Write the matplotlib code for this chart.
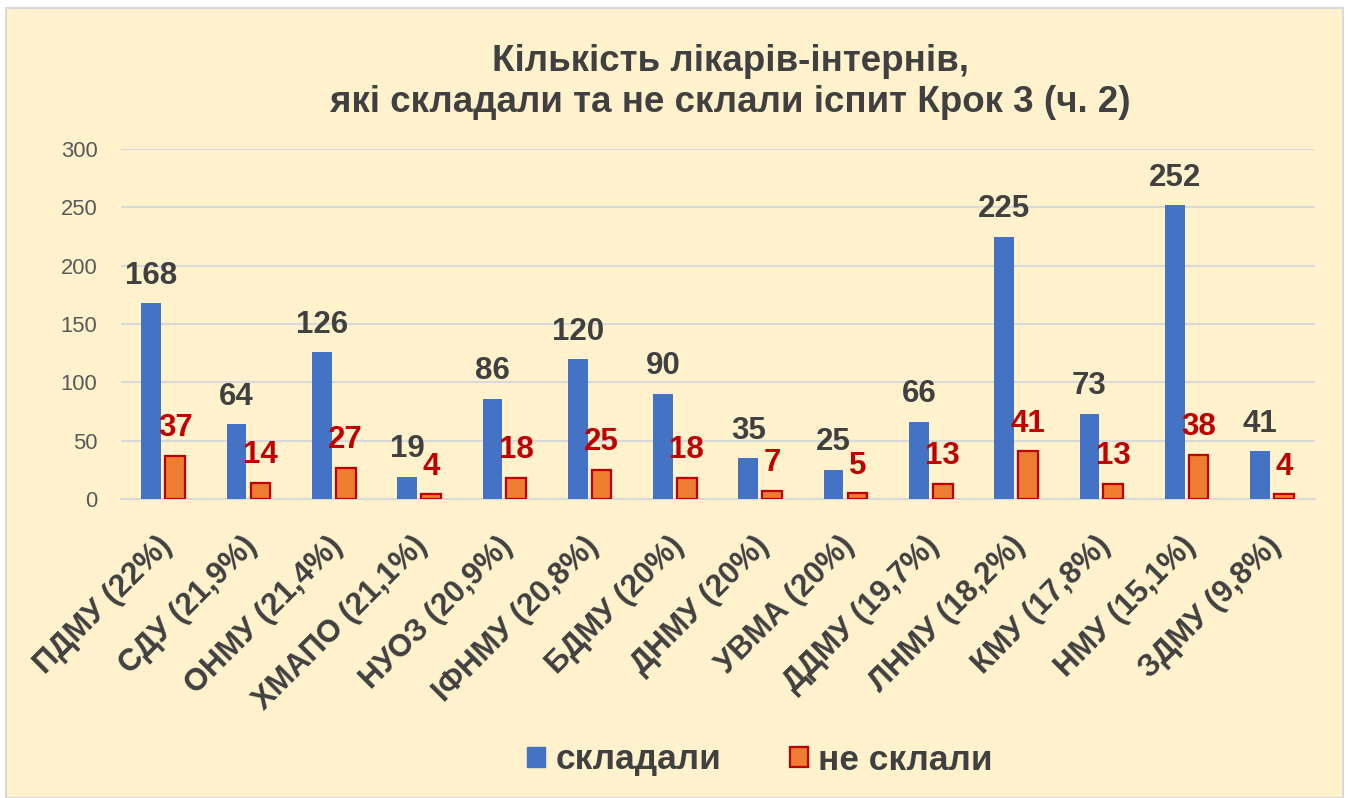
import numpy as np
import matplotlib
matplotlib.use("Agg")
import matplotlib.pyplot as plt
import matplotlib.transforms as mtransforms
from matplotlib.patches import Rectangle, Patch

# Дані
categories = ['ПДМУ (22%)', 'СДУ (21,9%)', 'ОНМУ (21,4%)', 'ХМАПО (21,1%)',
              'НУОЗ (20,9%)', 'ІФНМУ (20,8%)', 'БДМУ (20%)', 'ДНМУ (20%)',
              'УВМА (20%)', 'ДДМУ (19,7%)', 'ЛНМУ (18,2%)', 'КМУ (17,8%)',
              'НМУ (15,1%)', 'ЗДМУ (9,8%)']
took = [168, 64, 126, 19, 86, 120, 90, 35, 25, 66, 225, 73, 252, 41]
failed = [37, 14, 27, 4, 18, 25, 18, 7, 5, 13, 41, 13, 38, 4]

title = 'Кількість лікарів-інтернів,\nякі складали та не склали іспит Крок 3 (ч. 2)'

blue = '#4472C4'
orange = '#ED7D31'
dark_red = '#C00000'
text_col = '#404040'
grid_col = '#D9D9D9'
bg = '#FFF2CC'

plt.rcParams['font.family'] = ['Liberation Sans', 'DejaVu Sans']

W, H = 1350, 798
fig = plt.figure(figsize=(W / 100, H / 100), dpi=100)
fig.patch.set_facecolor('white')

# фон діаграми
fig.patches.append(Rectangle((6 / W, 0), (1343 - 6) / W, (H - 8) / H,
                             transform=fig.transFigure, facecolor=bg,
                             edgecolor=grid_col, linewidth=1.5, zorder=-10))

ax = fig.add_axes([121 / W, 1 - 499 / H, (1315 - 121) / W, (499 - 149) / H])
ax.set_facecolor('none')

x = np.arange(len(categories))
bw = 0.23
ax.bar(x - 0.145, took, width=bw, color=blue, zorder=3)
ax.bar(x + 0.135, failed, width=bw, color=orange, edgecolor=dark_red,
       linewidth=1.6, zorder=3)

for xi, v in zip(x, took):
    ax.annotate(str(v), (xi - 0.145, v), xytext=(0, 9), textcoords='offset points',
                ha='center', va='bottom', fontsize=22.5, fontweight='bold', color=text_col)
for xi, v in zip(x, failed):
    ax.annotate(str(v), (xi + 0.135, v), xytext=(0, 9), textcoords='offset points',
                ha='center', va='bottom', fontsize=22.5, fontweight='bold', color=dark_red)

ax.set_xlim(-0.5, len(categories) - 0.5)
ax.set_ylim(0, 300)
ax.set_yticks(np.arange(0, 301, 50))
ax.yaxis.grid(True, color=grid_col, linewidth=1.5, zorder=0)
ax.tick_params(axis='y', length=0, pad=17, labelsize=15.8, labelcolor='#595959')
ax.tick_params(axis='x', length=0, pad=23)
for s in ['top', 'right', 'left']:
    ax.spines[s].set_visible(False)
ax.spines['bottom'].set_color(grid_col)
ax.spines['bottom'].set_linewidth(1.5)

ax.set_xticks(x)
ax.set_xticklabels(categories, rotation=45, ha='right', rotation_mode='anchor',
                   fontsize=22.3, fontweight='bold', color=text_col)
shift = mtransforms.ScaledTranslation(-7 / 100, 0, fig.dpi_scale_trans)
for lbl in ax.get_xticklabels():
    lbl.set_transform(lbl.get_transform() + shift)

fig.text(730 / W, 1 - 82 / H, title, ha='center', va='center', fontsize=26.5,
         fontweight='bold', color=text_col, linespacing=1.2)

handles = [Patch(facecolor=blue, edgecolor=blue),
           Patch(facecolor=orange, edgecolor=dark_red, linewidth=1.6)]
leg = fig.legend(handles, ['складали', 'не склали'], loc='center',
                 bbox_to_anchor=(760 / W, 1 - 760 / H), ncol=2, frameon=False,
                 handlelength=0.5, handleheight=0.5, handletextpad=0.3,
                 columnspacing=1.95, prop={'size': 25.4, 'weight': 'bold'})
for t in leg.get_texts():
    t.set_color(text_col)

fig.savefig('out.png', dpi=100, facecolor='white')
